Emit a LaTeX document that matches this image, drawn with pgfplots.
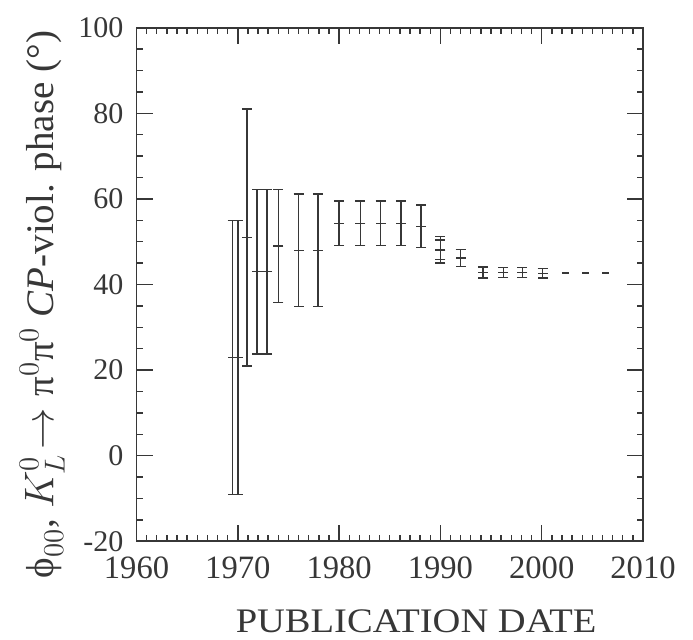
\documentclass[border=0pt]{standalone}
\usepackage{amsmath}
\usepackage{fontspec}
\setmainfont{Liberation Serif}
\usepackage{pgfplots}
\pgfplotsset{compat=1.18}
\definecolor{ink}{RGB}{55,55,55}

\begin{document}
\begin{tikzpicture}
\begin{axis}[
  scale only axis,
  width=253.25pt, height=256.75pt,
  xmin=1960, xmax=2010,
  ymin=-20, ymax=100,
  xtick={1960,1970,...,2010},
  ytick={-20,0,...,100},
  minor x tick num=9,
  minor y tick num=3,
  tick align=inside,
  major tick length=8pt,
  minor tick length=3pt,
  axis line style={ink, line width=0.8pt},
  every tick/.style={ink, line width=0.7pt},
  /pgf/number format/assume math mode=true,
  /pgf/number format/1000 sep={},
  tick label style={text=ink},
  xticklabel style={font=\fontsize{16.3}{18}\selectfont, yshift=-4pt},
  yticklabel style={font=\fontsize{15}{18}\selectfont, xshift=-3pt},
  xlabel={PUBLICATION DATE},
  every axis x label/.style={at={(ticklabel cs:0.552)}, anchor=near ticklabel,
    font=\fontsize{17.2}{20}\selectfont\addfontfeature{FakeStretch=1.12},
    text=ink, yshift=-9pt},
  ylabel={$\text{ϕ}_{00}$, $K_L^0\!\rightarrow\text{π}^0\text{π}^0$ \textit{CP}-viol. phase (°)},
  every axis y label/.style={at={(ticklabel cs:0.461)}, rotate=90, anchor=near ticklabel,
    font=\fontsize{19.5}{22}\selectfont, text=ink},
  clip=false,
]
\addplot[ink, only marks, line width=0.7pt, mark=-, mark size=2.5pt,
  error bars/.cd, y dir=both, y explicit,
  error bar style={ink, line width=0.7pt},
  error mark options={ink, mark size=2.5pt, line width=0.7pt, rotate=90}]
  table[x=x, y=y, y error=e] {
x y e
1969.5 23 32
1970.0 23 32
1970.9 51 30
1971.9 43 19.2
1972.9 43 19.2
1974.0 49 13.2
1976.0 48 13.2
1977.9 48 13.2
1980.0 54.3 5.2
1982.1 54.3 5.2
1984.1 54.3 5.2
1986.1 54.3 5.2
1988.1 53.6 5.0
1990.0 48.1 3.1
1990.0 48.1 2.3
1992.0 46.2 2.0
1994.2 42.8 1.3
1996.2 42.8 1.2
1998.1 42.8 1.2
2000.1 42.6 1.1
};
% world average continued
\addplot[ink, line width=1pt, dash pattern=on 3.5pt off 6.63pt]
  coordinates {(2002.0,42.8) (2006.8,42.8)};
\coordinate (bl) at (rel axis cs:-0.2695,-0.1903);
\coordinate (tr) at (rel axis cs:1.0987,1.0541);
\end{axis}
\pgfresetboundingbox
\path (bl) rectangle (tr);
\end{tikzpicture}
\end{document}
